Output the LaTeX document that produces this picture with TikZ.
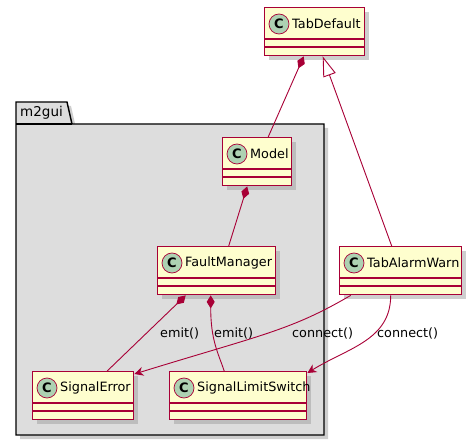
\documentclass[tikz,border=0pt]{standalone}
\usepackage{fontspec}
\setmainfont{DejaVu Sans}
\usetikzlibrary{arrows.meta}
\usetikzlibrary{shadows}
\usetikzlibrary{positioning}

\definecolor{umlred}{HTML}{A80036}
\definecolor{umlfill}{HTML}{FEFECE}
\definecolor{umlcirc}{HTML}{ADD1B2}
\definecolor{pkgfill}{HTML}{DDDDDD}

\tikzset{
  shade/.style={drop shadow={shadow xshift=4pt,shadow yshift=-4pt,fill=black!38}},
  cls/.style={draw=umlred,fill=umlfill,line width=1.4pt,anchor=north west,inner sep=0pt,minimum height=48pt,shade},
  cname/.style={font=\fontsize{12.8}{14}\selectfont,anchor=west,inner sep=0pt},
  cicon/.style={circle,draw=umlred,fill=umlcirc,line width=0.7pt,minimum size=20pt,inner sep=0pt,font=\bfseries\fontsize{13}{14}\selectfont},
  sep/.style={umlred,line width=1.4pt},
  rel/.style={umlred,line width=0.9pt},
  lbl/.style={font=\fontsize{12.8}{14}\selectfont,anchor=west,inner sep=0pt},
}

\begin{document}
\begin{tikzpicture}[x=1pt,y=-1pt]
\useasboundingbox (0,0) rectangle (474,441);

% package m2gui
\draw[fill=pkgfill,line width=1.4pt,shade] (16,102) -- (67,102) -- (72,124) -- (324,124) -- (324,435) -- (16,435) -- cycle;
\draw[line width=1.4pt] (16,124) -- (72,124);
\node[font=\fontsize{13.5}{14}\selectfont,anchor=west,inner sep=0pt] (m2gui) at (20,112.5) {m2gui};

% classes
\node[cls,minimum width=100pt] (TabDefault) at (264,7) {};
\draw[sep] ([yshift=-32pt]TabDefault.north west) -- ([yshift=-32pt]TabDefault.north east);
\draw[sep] ([yshift=-40pt]TabDefault.north west) -- ([yshift=-40pt]TabDefault.north east);
\node[cicon] (TabDefault-c) at (279,24) {C};
\node[cname] (TabDefault-n) at (292,24) {TabDefault};

\node[cls,minimum width=69pt] (Model) at (222,137) {};
\draw[sep] ([yshift=-32pt]Model.north west) -- ([yshift=-32pt]Model.north east);
\draw[sep] ([yshift=-40pt]Model.north west) -- ([yshift=-40pt]Model.north east);
\node[cicon] (Model-c) at (237,154) {C};
\node[cname] (Model-n) at (250,154) {Model};

\node[cls,minimum width=118pt] (FaultManager) at (157,246) {};
\draw[sep] ([yshift=-32pt]FaultManager.north west) -- ([yshift=-32pt]FaultManager.north east);
\draw[sep] ([yshift=-40pt]FaultManager.north west) -- ([yshift=-40pt]FaultManager.north east);
\node[cicon] (FaultManager-c) at (172,263) {C};
\node[cname] (FaultManager-n) at (185,263) {FaultManager};

\node[cls,minimum width=122pt] (TabAlarmWarn) at (339,246) {};
\draw[sep] ([yshift=-32pt]TabAlarmWarn.north west) -- ([yshift=-32pt]TabAlarmWarn.north east);
\draw[sep] ([yshift=-40pt]TabAlarmWarn.north west) -- ([yshift=-40pt]TabAlarmWarn.north east);
\node[cicon] (TabAlarmWarn-c) at (354,263) {C};
\node[cname] (TabAlarmWarn-n) at (367,263) {TabAlarmWarn};

\node[cls,minimum width=101pt] (SignalError) at (32,371) {};
\draw[sep] ([yshift=-32pt]SignalError.north west) -- ([yshift=-32pt]SignalError.north east);
\draw[sep] ([yshift=-40pt]SignalError.north west) -- ([yshift=-40pt]SignalError.north east);
\node[cicon] (SignalError-c) at (47,388) {C};
\node[cname] (SignalError-n) at (60,388) {SignalError};

\node[cls,minimum width=137pt] (SignalLimitSwitch) at (169,371) {};
\draw[sep] ([yshift=-32pt]SignalLimitSwitch.north west) -- ([yshift=-32pt]SignalLimitSwitch.north east);
\draw[sep] ([yshift=-40pt]SignalLimitSwitch.north west) -- ([yshift=-40pt]SignalLimitSwitch.north east);
\node[cicon] (SignalLimitSwitch-c) at (184,388) {C};
\node[cname] (SignalLimitSwitch-n) at (197,388) {SignalLimitSwitch};

% relations
\draw[rel,{Diamond[length=13pt,width=8pt]}-] ([xshift=-11pt]TabDefault.south) -- ([xshift=11pt]Model.north);
\draw[rel,{Triangle[open,length=20pt,width=13pt,fill=white]}-] ([xshift=8pt]TabDefault.south) -- ([xshift=-9pt]TabAlarmWarn.north);
\draw[rel,{Diamond[length=13pt,width=8pt]}-] ([xshift=-10pt]Model.south) -- ([xshift=12pt]FaultManager.north);
\draw[rel,{Diamond[length=13pt,width=8pt]}-] ([xshift=-31pt]FaultManager.south) -- ([xshift=24pt]SignalError.north);
\draw[rel,{Diamond[length=13pt,width=8pt]}-] ([xshift=-6pt]FaultManager.south) .. controls +(0,45) and +(-6,-18) .. ([xshift=-14pt]SignalLimitSwitch.north);
\draw[rel,-{Stealth[length=9pt,width=9pt,inset=3pt]}] ([xshift=-50pt]TabAlarmWarn.south) .. controls +(-60,35) and +(130,-40) .. ([yshift=-3pt]SignalError.north east);
\draw[rel,-{Stealth[length=9pt,width=9pt,inset=3pt]}] ([xshift=-10pt]TabAlarmWarn.south) .. controls +(0,45) and +(40,-25) .. ([yshift=-2pt]SignalLimitSwitch.north east);

\node[lbl] (emit1) at (160,333) {emit()};
\node[lbl] (emit2) at (214,333) {emit()};
\node[lbl] (conn1) at (292,333) {connect()};
\node[lbl] (conn2) at (377,333) {connect()};

\end{tikzpicture}
\end{document}
